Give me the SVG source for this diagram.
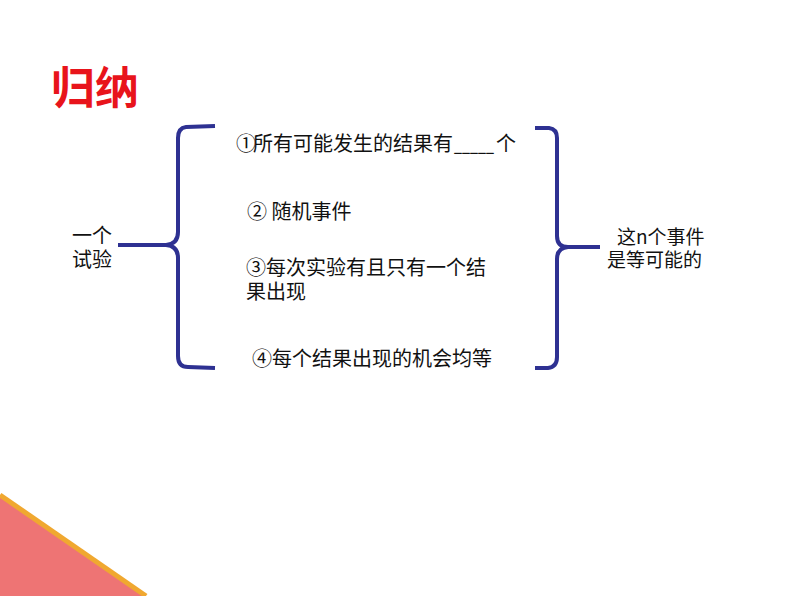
<svg xmlns="http://www.w3.org/2000/svg" width="794" height="596" viewBox="0 0 794 596">
<style>
.t{font-family:"Noto Sans CJK SC","Noto Sans",sans-serif;font-size:19px;fill:#111}
.m{font-size:20px}
.b{fill:none;stroke:#2E3192;stroke-width:4;stroke-linecap:butt;stroke-linejoin:round}
</style>
<rect width="794" height="596" fill="#fff"/>
<g id="corner">
<polygon points="0,495 146,596 0,596" fill="#EE7474"/>
<line x1="0" y1="495" x2="146" y2="596" stroke="#F0A830" stroke-width="5"/>
</g>
<g id="title">
<text x="51" y="104" font-family="'Noto Sans CJK SC',sans-serif" font-size="44" font-weight="bold" fill="#E8141B">归纳</text>
</g>
<g id="connectors">
<path class="b" d="M215,126 L186,127 Q178,128 178,138 L178,232 Q178,244 166,245 L118,245 M166,245 Q178,246 178,258 L178,356 Q178,367 188,367 L215,368"/>
<path class="b" d="M535,128 L549,128 Q557,129 557,138 L557,236 Q557,247 568,247 L600,247 M568,247 Q557,248 557,259 L557,357 Q557,367 548,368 L535,368"/>
</g>
<g id="left">
<text class="t m" x="72" y="243">一个</text>
<text class="t m" x="72" y="267">试验</text>
</g>
<g id="item1">
<text class="t m" x="236" y="151">①<tspan x="253">所有可能发生的结果有</tspan><tspan x="454" textLength="40" lengthAdjust="spacingAndGlyphs">_____</tspan><tspan x="496">个</tspan></text>
</g>
<g id="item2">
<text class="t m" x="247" y="219">② 随机事件</text>
</g>
<g id="item3">
<text class="t m" x="246" y="275">③每次实验有且只有一个结</text>
<text class="t m" x="246" y="299">果出现</text>
</g>
<g id="item4">
<text class="t m" x="252" y="366">④每个结果出现的机会均等</text>
</g>
<g id="right">
<text class="t" x="617" y="244">这n个事件</text>
<text class="t" x="607" y="267">是等可能的</text>
</g>
</svg>
